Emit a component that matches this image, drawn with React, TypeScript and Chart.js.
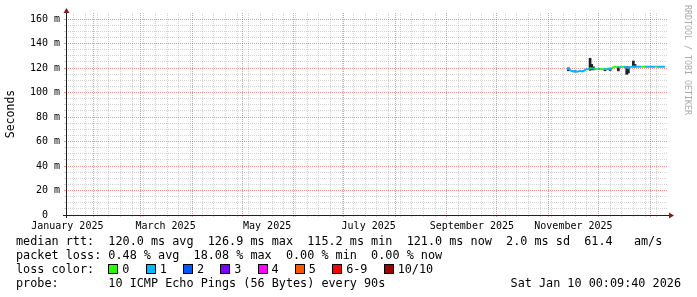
import React, { useEffect, useRef } from 'react';
import { Chart, registerables } from 'chart.js';

Chart.register(...registerables);

// ---- data (x = day number counted from 1 Jan 2025) ----
const DAYS = [
  315, 316, 317, 318, 319, 320, 321, 322, 323, 324, 325, 326, 327, 328, 329, 330,
  331, 332, 333, 334, 335, 336, 337, 338, 339, 340, 341, 342, 343, 344, 345, 346,
  347, 348, 349, 350, 351, 352, 353, 354, 355, 356, 357, 358, 359, 360, 361, 362,
  363, 364, 365, 366, 367, 368, 369, 370, 371, 372, 373, 374,
];
const MEDIAN_MS = [
  119.8, 119.5, 118.3, 117.6, 117.2, 117.5, 117.0, 117.3, 117.8, 117.2, 117.6, 118.6, 119.0, 119.2, 119.6, 120.0,
  119.5, 119.4, 119.2, 119.5, 119.3, 119.0, 119.4, 119.0, 119.2, 119.5, 119.0, 120.0, 120.8, 121.0, 121.0, 120.6,
  120.9, 121.0, 120.8, 121.0, 120.5, 120.2, 120.8, 121.0, 121.2, 121.2, 121.1, 121.0, 121.1, 121.0, 121.1, 121.0,
  121.1, 121.0, 121.1, 121.0, 121.1, 121.0, 121.1, 121.0, 121.1, 121.0, 121.1, 121.0,
];
const LOSS = [
  1, 1, 1, 1, 1, 1, 1, 1, 1, 1, 1, 1, 1, 1, 1, 0,
  1, 0, 1, 0, 1, 0, 0, 1, 0, 1, 1, 1, 0, 0, 0, 1,
  0, 1, 0, 1, 1, 1, 1, 1, 1, 1, 1, 1, 1, 1, 0, 0,
  1, 1, 1, 1, 1, 1, 0, 1, 1, 1, 1, 1,
];
const SMOKE_DAYS = [316, 320, 329, 330, 331, 338, 341, 346, 351, 352, 355, 356];
const SMOKE_LO = [117.8, 116.8, 118.2, 119.0, 118.5, 117.8, 118.0, 117.7, 114.9, 116.0, 121.0, 120.8];
const SMOKE_HI = [120.2, 118.0, 128.0, 123.0, 121.0, 119.5, 120.0, 121.0, 121.0, 121.0, 125.8, 123.0];

const Y_MAX = 165;
const X_MIN = 14.2;
const X_MAX = 375.8;
const X_LABELS = ['January 2025', 'March 2025', 'May 2025', 'July 2025', 'September 2025', 'November 2025'];
const X_LABEL_MONTHS = [0, 2, 4, 6, 8, 10];
const LOSS_LABELS = ['0', '1', '2', '3', '4', '5', '6-9', '10/10'];
const LOSS_COLORS = ['#26ff00', '#00b8ff', '#0059ff', '#7e00ff', '#ff00ff', '#ff5500', '#ff0000', '#a10000'];

const STATS_RTT = 'median rtt:  120.0 ms avg  126.9 ms max  115.2 ms min  121.0 ms now  2.0 ms sd  61.4   am/s';
const STATS_LOSS = 'packet loss: 0.48 % avg  18.08 % max  0.00 % min  0.00 % now';
const PROBE = 'probe:       10 ICMP Echo Pings (56 Bytes) every 90s';
const STAMP = 'Sat Jan 10 00:09:40 2026';

const MONO = "'DejaVu Sans Mono', monospace";
const MINOR = 'rgba(150,150,150,0.42)';
const MAJOR = 'rgba(222,79,79,0.6)';

const dayOf = (y: number, m: number, d: number) => (Date.UTC(y, m, d) - Date.UTC(2025, 0, 1)) / 86400000;

function buildXTicks() {
  const kinds = new Map<number, { kind: string; label: string }>();
  for (let d = dayOf(2025, 0, 20); d <= X_MAX; d += 7) kinds.set(d, { kind: 'minor', label: '' });
  for (let m = 1; m <= 12; m++) kinds.set(dayOf(2025, m, 1), { kind: 'major', label: '' });
  X_LABEL_MONTHS.forEach((m, i) => kinds.set(dayOf(2025, m, 1) + 15, { kind: 'label', label: X_LABELS[i] }));
  return kinds;
}
const X_TICKS = buildXTicks();

const axesPlugin = {
  id: 'rrdAxes',
  afterDraw(chart: any) {
    const { ctx, chartArea: a } = chart;
    ctx.save();
    ctx.strokeStyle = '#1f1f1f';
    ctx.lineWidth = 1;
    ctx.beginPath();
    ctx.moveTo(a.left - 3, a.bottom + 0.5);
    ctx.lineTo(a.right + 2, a.bottom + 0.5);
    ctx.moveTo(a.left + 0.5, a.bottom + 3);
    ctx.lineTo(a.left + 0.5, a.top - 2);
    ctx.stroke();
    ctx.fillStyle = '#801f1f';
    ctx.beginPath();
    ctx.moveTo(a.left - 2.5, a.top);
    ctx.lineTo(a.left + 3.5, a.top);
    ctx.lineTo(a.left + 0.5, a.top - 5);
    ctx.closePath();
    ctx.fill();
    ctx.beginPath();
    ctx.moveTo(a.right + 1, a.bottom - 2.5);
    ctx.lineTo(a.right + 1, a.bottom + 3.5);
    ctx.lineTo(a.right + 6, a.bottom + 0.5);
    ctx.closePath();
    ctx.fill();
    ctx.restore();
  },
};

function SmokeChart() {
  const ref = useRef<HTMLCanvasElement | null>(null);
  useEffect(() => {
    if (!ref.current) return;
    const chart = new Chart(ref.current, {
      type: 'line',
      data: {
        datasets: [
          {
            type: 'line',
            label: 'median',
            data: DAYS.map((d, i) => ({ x: d, y: MEDIAN_MS[i] })),
            borderColor: LOSS_COLORS[1],
            borderWidth: 2,
            pointRadius: 0,
            tension: 0,
            order: 0,
            segment: { borderColor: (c: any) => LOSS_COLORS[LOSS[c.p1DataIndex]] },
          } as any,
          {
            type: 'bar',
            label: 'smoke',
            data: SMOKE_DAYS.map((d, i) => ({ x: d, y: [SMOKE_LO[i], SMOKE_HI[i]] })),
            backgroundColor: '#1c1c2a',
            barThickness: 2,
            grouped: false,
            order: 1,
          } as any,
        ],
      },
      options: {
        animation: false,
        responsive: false,
        devicePixelRatio: 1,
        layout: { padding: { top: 13, right: 29, left: 0, bottom: 0 } },
        plugins: { legend: { display: false }, tooltip: { enabled: false } },
        scales: {
          x: {
            type: 'linear',
            min: X_MIN,
            max: X_MAX,
            offset: false,
            afterFit: (s: any) => { s.height = 82; },
            afterBuildTicks: (s: any) => {
              s.ticks = Array.from(X_TICKS.keys()).sort((a, b) => a - b).map((v) => ({ value: v }));
            },
            ticks: {
              autoSkip: false,
              maxRotation: 0,
              padding: 3,
              color: '#000',
              font: { family: MONO, size: 10 },
              callback: (v: any) => X_TICKS.get(v)?.label ?? '',
            },
            grid: {
              offset: false,
              tickLength: 2,
              color: (c: any) => {
                const k = X_TICKS.get(c.tick?.value)?.kind;
                return k === 'major' ? MAJOR : k === 'minor' ? MINOR : 'rgba(0,0,0,0)';
              },
              tickColor: (c: any) => {
                const k = X_TICKS.get(c.tick?.value)?.kind;
                return k === 'major' ? MAJOR : k === 'minor' ? MINOR : 'rgba(0,0,0,0)';
              },
            },
            border: { display: false, dash: [1, 1] },
          } as any,
          y: {
            type: 'linear',
            min: 0,
            max: Y_MAX,
            afterFit: (s: any) => { s.width = 66; },
            afterBuildTicks: (s: any) => {
              const t = [];
              for (let v = 0; v <= 160; v += 5) t.push({ value: v });
              s.ticks = t;
            },
            title: {
              display: true,
              text: 'Seconds',
              color: '#000',
              font: { family: MONO, size: 11.5 },
              padding: { top: 4, bottom: 0 },
            },
            ticks: {
              autoSkip: false,
              padding: 4,
              color: '#000',
              font: { family: MONO, size: 10 },
              callback: (v: any) => (v % 20 === 0 ? (v === 0 ? '0  ' : `${v} m`) : ''),
            },
            grid: {
              tickLength: 2,
              color: (c: any) => (c.tick && c.tick.value % 20 === 0 ? MAJOR : MINOR),
              tickColor: (c: any) => (c.tick && c.tick.value % 20 === 0 ? MAJOR : MINOR),
            },
            border: { display: false, dash: [1, 1] },
          } as any,
        },
      },
      plugins: [axesPlugin],
    } as any);
    return () => chart.destroy();
  }, []);
  return <canvas ref={ref} width={697} height={297} style={{ position: 'absolute', left: 0, top: 0 }} />;
}

const lineStyle: React.CSSProperties = {
  position: 'absolute',
  left: 16,
  fontFamily: MONO,
  fontSize: '11.8px',
  lineHeight: '14px',
  whiteSpace: 'pre',
  color: '#000',
};

export default function App() {
  return (
    <div style={{ position: 'fixed', left: 0, top: 0, width: 697, height: 297, background: '#fff', overflow: 'hidden' }}>
      <SmokeChart />
      <div style={{ ...lineStyle, top: 234 }}>{STATS_RTT}</div>
      <div style={{ ...lineStyle, top: 248 }}>{STATS_LOSS}</div>
      <div style={{ ...lineStyle, top: 262, display: 'flex', alignItems: 'center' }}>
        <span>{'loss color:  '}</span>
        {LOSS_LABELS.map((l, i) => (
          <span key={l} style={{ display: 'inline-flex', alignItems: 'center', marginRight: 16.2 }}>
            <span style={{ display: 'inline-block', width: 8, height: 8, border: '1px solid #000', background: LOSS_COLORS[i], marginRight: 4 }} />
            <span>{l}</span>
          </span>
        ))}
      </div>
      <div style={{ ...lineStyle, top: 276 }}>{PROBE}</div>
      <div style={{ ...lineStyle, top: 276, left: 'auto', right: 16 }}>{STAMP}</div>
      <div
        style={{
          position: 'absolute',
          left: 683,
          top: 5,
          writingMode: 'vertical-rl',
          fontFamily: MONO,
          fontSize: '8.3px',
          lineHeight: '9px',
          color: '#aaaaaa',
          whiteSpace: 'pre',
        }}
      >
        RRDTOOL / TOBI OETIKER
      </div>
    </div>
  );
}
